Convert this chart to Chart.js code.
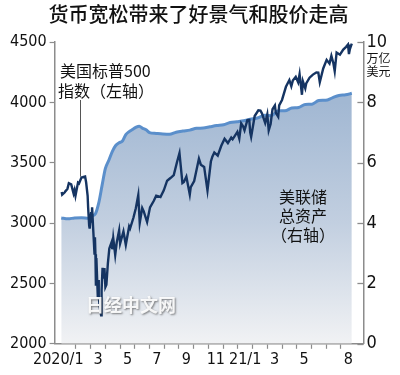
<!DOCTYPE html>
<html>
<head>
<meta charset="utf-8">
<script src="https://cdn.jsdelivr.net/npm/chart.js@4.4.1/dist/chart.umd.min.js"></script>
<style>
  html, body { margin: 0; padding: 0; background: #fff; }
</style>
</head>
<body>
<canvas id="chart" width="400" height="375"></canvas>
<script>
// S&P 500 (left axis)
const spxDates = [
  "2020-01-02","2020-01-03","2020-01-08","2020-01-10","2020-01-14","2020-01-17","2020-01-22","2020-01-27","2020-01-29","2020-01-31",
  "2020-02-05","2020-02-07","2020-02-12","2020-02-14","2020-02-19","2020-02-21","2020-02-24","2020-02-25","2020-02-27","2020-02-28",
  "2020-03-02","2020-03-03","2020-03-04","2020-03-06","2020-03-09","2020-03-10","2020-03-11","2020-03-12","2020-03-13","2020-03-16",
  "2020-03-17","2020-03-18","2020-03-20","2020-03-23","2020-03-24","2020-03-26","2020-03-27","2020-03-30","2020-04-01","2020-04-03",
  "2020-04-06","2020-04-09","2020-04-14","2020-04-15","2020-04-17","2020-04-21","2020-04-24","2020-04-29","2020-05-01","2020-05-08",
  "2020-05-13","2020-05-15","2020-05-20","2020-05-22","2020-05-29","2020-06-03","2020-06-08","2020-06-11","2020-06-16","2020-06-19",
  "2020-06-26","2020-07-02","2020-07-10","2020-07-15","2020-07-24","2020-07-31","2020-08-07","2020-08-14","2020-08-21","2020-08-28",
  "2020-09-02","2020-09-08","2020-09-11","2020-09-16","2020-09-23","2020-09-25","2020-10-02","2020-10-12","2020-10-16","2020-10-23",
  "2020-10-30","2020-11-06","2020-11-09","2020-11-13","2020-11-20","2020-11-27","2020-12-04","2020-12-11","2020-12-18","2020-12-21",
  "2020-12-31","2021-01-04","2021-01-08","2021-01-12","2021-01-15","2021-01-21","2021-01-25","2021-01-27","2021-01-29","2021-02-05",
  "2021-02-12","2021-02-16","2021-02-19","2021-02-25","2021-03-01","2021-03-04","2021-03-08","2021-03-12","2021-03-17","2021-03-19",
  "2021-03-24","2021-03-26","2021-04-01","2021-04-09","2021-04-16","2021-04-20","2021-04-23","2021-04-29","2021-05-04","2021-05-07",
  "2021-05-12","2021-05-14","2021-05-19","2021-05-21","2021-05-28","2021-06-04","2021-06-11","2021-06-15","2021-06-18","2021-06-25",
  "2021-07-02","2021-07-08","2021-07-12","2021-07-16","2021-07-19","2021-07-23","2021-07-27","2021-07-30","2021-08-06","2021-08-12",
  "2021-08-16","2021-08-18","2021-08-20","2021-08-24"
];
const spxValues = [
  3258,3235,3253,3265,3283,3330,3321,3244,3273,3226,
  3335,3328,3379,3380,3386,3338,3226,3128,2979,2954,
  3090,3003,3130,2972,2747,2882,2741,2481,2711,2386,
  2529,2398,2305,2237,2447,2630,2541,2627,2470,2489,
  2664,2790,2846,2783,2875,2737,2837,2939,2830,2930,
  2820,2864,2972,2955,3044,3123,3232,3002,3125,3098,
  3009,3130,3185,3227,3216,3271,3351,3373,3397,3508,
  3580,3332,3341,3385,3237,3298,3348,3534,3484,3465,
  3270,3510,3550,3585,3558,3638,3699,3663,3709,3694,
  3756,3701,3825,3801,3768,3853,3855,3751,3714,3887,
  3934,3932,3907,3829,3901,3768,3821,3943,3974,3913,
  3881,3975,4020,4129,4185,4134,4180,4211,4165,4233,
  4063,4174,4116,4156,4204,4230,4247,4246,4167,4281,
  4352,4321,4385,4327,4258,4412,4402,4395,4437,4460,
  4479,4400,4442,4486
];

// Fed total assets, trillion USD (right axis)
const fedDates = [
  "2020-01-01","2020-01-15","2020-01-29","2020-02-12","2020-02-26","2020-03-04","2020-03-11","2020-03-18","2020-03-25","2020-04-01",
  "2020-04-08","2020-04-15","2020-04-22","2020-04-29","2020-05-06","2020-05-13","2020-05-20","2020-05-27","2020-06-03","2020-06-10",
  "2020-06-17","2020-06-24","2020-07-01","2020-07-15","2020-07-29","2020-08-12","2020-08-26","2020-09-09","2020-09-23","2020-10-07",
  "2020-10-21","2020-11-04","2020-11-18","2020-12-02","2020-12-16","2020-12-30","2021-01-13","2021-01-27","2021-02-10","2021-02-24",
  "2021-03-10","2021-03-24","2021-04-07","2021-04-21","2021-05-05","2021-05-19","2021-06-02","2021-06-16","2021-06-30","2021-07-14",
  "2021-07-28","2021-08-11","2021-08-24"
];
const fedValues = [
  4.17,4.14,4.17,4.18,4.16,4.24,4.31,4.67,5.25,5.81,
  6.08,6.37,6.57,6.66,6.72,6.93,7.03,7.10,7.17,7.21,
  7.14,7.09,7.00,6.97,6.95,6.94,7.01,7.05,7.08,7.14,
  7.15,7.19,7.23,7.26,7.33,7.36,7.39,7.44,7.48,7.57,
  7.56,7.72,7.72,7.81,7.83,7.93,7.94,8.06,8.07,8.15,
  8.23,8.25,8.30
];

// x axis: months since 2020/1 (tick marks at month boundaries, labels mid-month)
const monthTicks = [1,2,3,4,5,6,7,8,9,10,11,12,13,14,15,16,17,18,19];
const monthLabelAt = [-0.2, 2.5, 4.5, 6.5, 8.5, 10.5, 12.5, 14.5, 16.5, 19.5];
const monthLabels = ["2020/1","3","5","7","9","11","21/1","3","5","8"];

const leftTicks = [2000, 2500, 3000, 3500, 4000, 4500];
const rightTicks = [0, 2, 4, 6, 8, 10];

function toMonth(s) {
  const [y, m, d] = s.split("-").map(Number);
  const dim = new Date(y, m, 0).getDate();
  return (y - 2020) * 12 + (m - 1) + (d - 1) / dim;
}

const NARROW = "'Liberation Sans Narrow', 'Arial Narrow', 'DejaVu Sans Condensed', sans-serif";
const CJK = "'Noto Sans CJK SC', 'Noto Sans', sans-serif";
const AXIS = "#8c8c8c";

const notes = {
  id: "notes",
  afterDatasetsDraw(chart) {
    const { ctx, scales } = chart;
    const x = scales.x, y = scales.y, y2 = scales.y2;
    ctx.save();

    // inward ticks on right axis
    ctx.strokeStyle = AXIS;
    ctx.lineWidth = 1.3;
    y2.ticks.forEach(t => {
      const py = Math.round(y2.getPixelForValue(t.value)) + 0.5;
      ctx.beginPath();
      ctx.moveTo(y2.left - 6, py);
      ctx.lineTo(y2.left, py);
      ctx.stroke();
    });

    // leader line for S&P label
    const lx = Math.round(x.getPixelForValue(1.3)) + 0.5;
    ctx.strokeStyle = "#555";
    ctx.lineWidth = 1;
    ctx.beginPath();
    ctx.moveTo(lx, 100);
    ctx.lineTo(lx, y.getPixelForValue(3385));
    ctx.stroke();

    ctx.fillStyle = "#111";
    ctx.textBaseline = "middle";
    ctx.textAlign = "left";
    ctx.font = "16px " + CJK;
    ctx.fillText("美国标普500", 60, 71);
    ctx.fillText("指数（左轴）", 58, 91);

    ctx.fillText("美联储", 279, 197);
    ctx.fillText("总资产", 279, 216);
    ctx.fillText("（右轴）", 271, 235);

    ctx.font = "12px " + CJK;
    ctx.fillText("万亿", y2.left + 3, 58);
    ctx.fillText("美元", y2.left + 3, 71);

    // watermark
    ctx.font = "bold 18px " + CJK;
    ctx.shadowColor = "rgba(60,60,60,0.7)";
    ctx.shadowBlur = 2;
    ctx.shadowOffsetX = 1;
    ctx.shadowOffsetY = 1;
    ctx.fillStyle = "rgba(255,255,255,0.9)";
    ctx.fillText("日经中文网", 86, 305);
    ctx.restore();
  }
};

new Chart(document.getElementById("chart"), {
  type: "line",
  data: {
    datasets: [
      {
        label: "美国标普500指数",
        yAxisID: "y",
        data: spxDates.map((d, i) => ({ x: toMonth(d), y: spxValues[i] })),
        borderColor: "#153462",
        borderWidth: 2.4,
        pointRadius: 0,
        tension: 0,
        fill: false
      },
      {
        label: "美联储总资产",
        yAxisID: "y2",
        data: fedDates.map((d, i) => ({ x: toMonth(d), y: fedValues[i] })),
        borderColor: "#5b8fcb",
        borderWidth: 3,
        pointRadius: 0,
        cubicInterpolationMode: "monotone",
        fill: "start",
        backgroundColor: (c) => {
          const ch = c.chart;
          if (!ch.chartArea) return "#b8c8dc";
          const s = ch.scales.y2;
          const g = ch.ctx.createLinearGradient(0, s.getPixelForValue(8), 0, s.getPixelForValue(0));
          g.addColorStop(0, "#a2b8d3");
          g.addColorStop(0.5, "#c2cfe0");
          g.addColorStop(1, "#f1f2f4");
          return g;
        }
      }
    ]
  },
  options: {
    responsive: false,
    animation: false,
    devicePixelRatio: 1,
    layout: { padding: { left: 7, right: 10, top: 0, bottom: 5 } },
    plugins: {
      legend: { display: false },
      tooltip: { enabled: false },
      title: {
        display: true,
        text: "货币宽松带来了好景气和股价走高",
        color: "#111",
        font: { family: CJK, size: 20, weight: "500" },
        padding: { top: 2, bottom: 16 }
      }
    },
    scales: {
      x: {
        type: "linear",
        min: -0.45,
        max: 20.53,
        afterBuildTicks: (s) => {
          s.ticks = monthTicks.concat(monthLabelAt).sort((a, b) => a - b).map(v => ({ value: v }));
        },
        ticks: {
          autoSkip: false,
          maxRotation: 0,
          padding: 1,
          color: "#111",
          font: { family: NARROW, size: 16 },
          callback: (v) => {
            const i = monthLabelAt.indexOf(v);
            return i >= 0 ? monthLabels[i] : "";
          }
        },
        grid: {
          drawOnChartArea: false,
          tickLength: 5,
          tickWidth: 1.2,
          tickColor: (c) => (c.tick && Number.isInteger(c.tick.value)) ? AXIS : "rgba(0,0,0,0)"
        },
        border: { color: AXIS, width: 1.5 }
      },
      y: {
        position: "left",
        min: 2000,
        max: 4500,
        afterBuildTicks: (s) => { s.ticks = leftTicks.map(v => ({ value: v })); },
        ticks: {
          padding: 3,
          color: "#111",
          font: { family: NARROW, size: 16 },
          callback: (v) => String(v)
        },
        grid: { drawOnChartArea: false, tickLength: 5, tickWidth: 1.2, tickColor: AXIS },
        border: { color: AXIS, width: 1.5 }
      },
      y2: {
        position: "right",
        min: 0,
        max: 10,
        afterBuildTicks: (s) => { s.ticks = rightTicks.map(v => ({ value: v })); },
        ticks: {
          padding: 3,
          color: "#111",
          font: { family: NARROW, size: 18 },
          callback: (v) => String(v)
        },
        grid: { drawOnChartArea: false, drawTicks: false },
        border: { color: AXIS, width: 1.5 }
      }
    }
  },
  plugins: [notes]
});
</script>
</body>
</html>
